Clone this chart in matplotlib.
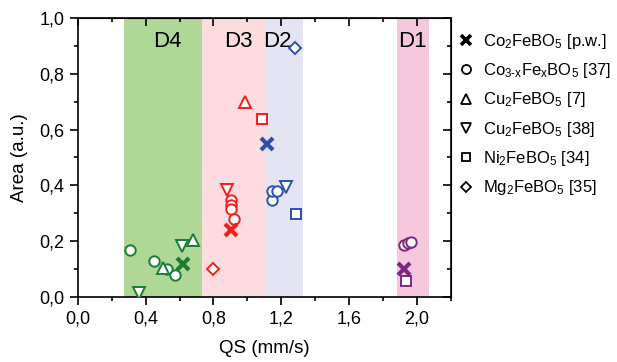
import matplotlib.pyplot as plt
from matplotlib.lines import Line2D
from matplotlib.ticker import MultipleLocator, FuncFormatter, NullFormatter

plt.rcParams['font.family'] = ['Liberation Sans', 'DejaVu Sans']
plt.rcParams['mathtext.fontset'] = 'custom'
plt.rcParams['mathtext.rm'] = 'Liberation Sans'
plt.rcParams['mathtext.it'] = 'Liberation Sans'
plt.rcParams['mathtext.default'] = 'regular'

# domain bands (QS ranges) and labels
band_names = ["D4", "D3", "D2", "D1"]
band_lo = [0.274, 0.732, 1.11, 1.882]
band_hi = [0.732, 1.11, 1.327, 2.073]
band_cols = ["#afd795", "#fcdcde", "#e4e4f2", "#f5c8de"]
band_label_x = [0.53, 0.945, 1.175, 1.975]

dom_cols = {"D4": "#197d37", "D3": "#f01e1e", "D2": "#2d50aa", "D1": "#7a2882"}

# Co2FeBO5 [p.w.]
pw_qs = [0.623, 0.903, 1.116, 1.925]
pw_area = [0.118, 0.238, 0.548, 0.099]
pw_dom = ["D4", "D3", "D2", "D1"]

# Co3-xFexBO5 [37]
c37_qs = [0.308, 0.452, 0.525, 0.574, 0.905, 0.905, 0.905, 0.923, 1.142, 1.142, 1.172, 1.925, 1.945, 1.964]
c37_area = [0.168, 0.129, 0.099, 0.079, 0.348, 0.330, 0.314, 0.278, 0.348, 0.378, 0.378, 0.186, 0.192, 0.196]
c37_dom = ["D4", "D4", "D4", "D4", "D3", "D3", "D3", "D3", "D2", "D2", "D2", "D1", "D1", "D1"]

# Cu2FeBO5 [7]
cu7_qs = [0.50, 0.682, 0.984]
cu7_area = [0.103, 0.204, 0.70]
cu7_dom = ["D4", "D4", "D3"]

# Cu2FeBO5 [38]
cu38_qs = [0.363, 0.613, 0.88, 1.225]
cu38_area = [0.015, 0.184, 0.384, 0.393]
cu38_dom = ["D4", "D4", "D3", "D2"]

# Ni2FeBO5 [34]
ni_qs = [1.083, 1.288, 1.935]
ni_area = [0.638, 0.297, 0.057]
ni_dom = ["D3", "D2", "D1"]

# Mg2FeBO5 [35]
mg_qs = [0.80, 1.28]
mg_area = [0.10, 0.891]
mg_dom = ["D3", "D2"]

labels = [r"Co$_2$FeBO$_5$ [p.w.]", r"Co$_{3\text{-}x}$Fe$_x$BO$_5$ [37]",
          r"Cu$_2$FeBO$_5$ [7]", r"Cu$_2$FeBO$_5$ [38]",
          r"Ni$_2$FeBO$_5$ [34]", r"Mg$_2$FeBO$_5$ [35]"]

fig = plt.figure(figsize=(6.17, 3.62), dpi=100)
ax = fig.add_axes([0.126, 0.180, 0.605, 0.770])

for lo, hi, c, name, lx in zip(band_lo, band_hi, band_cols, band_names, band_label_x):
    ax.axvspan(lo, hi, color=c, lw=0, zorder=0)
    ax.text(lx, 0.915, name, fontsize=16, ha="center", va="center", zorder=1)

series = [
    (c37_qs, c37_area, c37_dom, "o", 7.5),
    (cu7_qs, cu7_area, cu7_dom, "^", 8),
    (cu38_qs, cu38_area, cu38_dom, "v", 8),
    (ni_qs, ni_area, ni_dom, "s", 6.5),
    (mg_qs, mg_area, mg_dom, "D", 6),
]
for xs, ys, ds, m, ms in series:
    for x, y, d in zip(xs, ys, ds):
        ax.plot(x, y, marker=m, ms=ms, mfc="white", mec=dom_cols[d], mew=1.4,
                ls="none", zorder=3)
for x, y, d in zip(pw_qs, pw_area, pw_dom):
    ax.plot(x, y, marker="x", ms=9, mec=dom_cols[d], mew=3, ls="none", zorder=4)

ax.set_xlim(0, 2.2)
ax.set_ylim(0, 1.0)
comma = FuncFormatter(lambda v, p: ("%.1f" % v).replace(".", ","))
for axis, maj, mnr in ((ax.xaxis, 0.4, 0.2), (ax.yaxis, 0.2, 0.1)):
    axis.set_major_locator(MultipleLocator(maj))
    axis.set_minor_locator(MultipleLocator(mnr))
    axis.set_major_formatter(comma)
ax.tick_params(which="both", direction="out", labelsize=13, width=1.2)
ax.tick_params(which="major", length=6)
ax.tick_params(which="minor", length=3)
for s in ax.spines.values():
    s.set_linewidth(1.2)

# mirrored ticks on top and right, pointing inward
top = ax.secondary_xaxis("top")
right = ax.secondary_yaxis("right")
for sec, axis, maj, mnr in ((top, top.xaxis, 0.4, 0.2), (right, right.yaxis, 0.2, 0.1)):
    axis.set_major_locator(MultipleLocator(maj))
    axis.set_minor_locator(MultipleLocator(mnr))
    axis.set_major_formatter(NullFormatter())
    sec.tick_params(which="both", direction="in", width=1.2)
    sec.tick_params(which="major", length=6)
    sec.tick_params(which="minor", length=3)

ax.set_xlabel("QS (mm/s)", fontsize=13.5, labelpad=9)
ax.set_ylabel("Area (a.u.)", fontsize=13.5, labelpad=8)

handles = [
    Line2D([], [], marker="x", ms=7.5, mec="black", mew=2.6, ls="none"),
    Line2D([], [], marker="o", ms=6.5, mfc="white", mec="black", mew=1.3, ls="none"),
    Line2D([], [], marker="^", ms=7.5, mfc="white", mec="black", mew=1.3, ls="none"),
    Line2D([], [], marker="v", ms=7.5, mfc="white", mec="black", mew=1.3, ls="none"),
    Line2D([], [], marker="s", ms=6, mfc="white", mec="black", mew=1.3, ls="none"),
    Line2D([], [], marker="D", ms=5.5, mfc="white", mec="black", mew=1.3, ls="none"),
]
ax.legend(handles, labels, loc="upper left", bbox_to_anchor=(1.0, 0.975),
          frameon=False, fontsize=12, handlelength=1.0, handletextpad=0.5,
          labelspacing=0.62, borderaxespad=0.1, borderpad=0.3)

fig.savefig("out.png", dpi=100)
